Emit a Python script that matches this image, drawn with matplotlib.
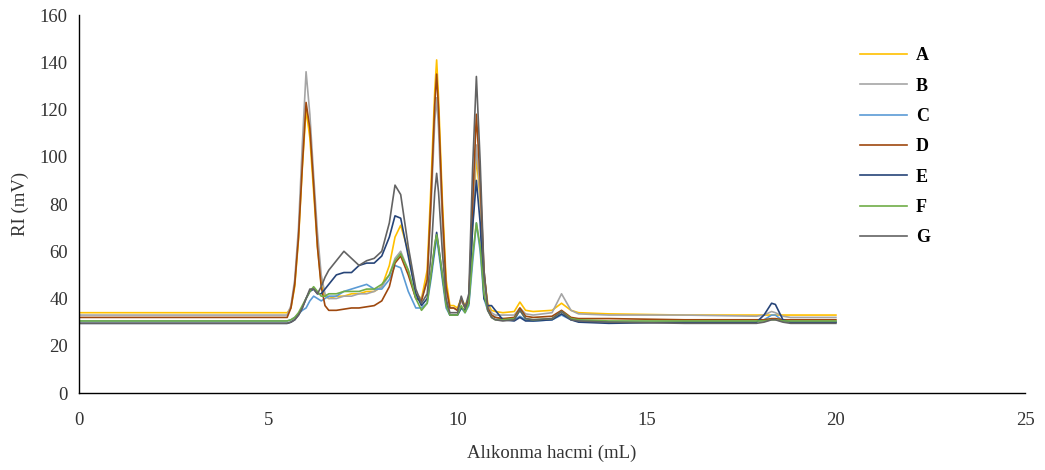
import matplotlib
matplotlib.use("Agg")
import matplotlib.pyplot as plt

# Retention volume (mL) sampling positions
x_ml = [0, 5.0, 5.5,
        5.6, 5.7, 5.8, 5.9, 6.0, 6.1, 6.2, 6.3, 6.4, 6.5, 6.6,
        6.8, 7.0, 7.2, 7.4, 7.6, 7.8, 8.0, 8.2, 8.35, 8.5, 8.7, 8.9,
        9.05, 9.2, 9.3, 9.4, 9.45, 9.5, 9.6, 9.7, 9.8, 9.9,
        10.0, 10.1, 10.2, 10.3, 10.4, 10.5, 10.6, 10.7, 10.8, 10.9, 11.0,
        11.2, 11.5, 11.65, 11.8, 12.0, 12.5, 12.75, 13.0, 13.2, 14.0,
        16.0, 17.9, 18.1, 18.3, 18.4, 18.6, 18.8, 20.0]

ri_A = [34, 34, 34,
        36, 45, 65, 95, 120, 108, 85, 62, 46, 41, 40,
        41, 41, 42, 42, 43, 43, 45, 54, 66, 71, 60, 42,
        40, 52, 88, 128, 141, 125, 82, 48, 37, 37,
        36, 40, 37, 40, 70, 100, 82, 50, 38, 35, 34.5,
        34, 34.5, 38.5, 35, 34.5, 35, 38, 35, 34, 33.5,
        33, 33, 33, 33, 33, 33, 33, 33]
ri_B = [33, 33, 33,
        37, 48, 70, 105, 136, 118, 92, 68, 50, 42, 40,
        40, 41, 41, 42, 42, 43, 45, 50, 57, 60, 52, 40,
        40, 47, 78, 115, 125, 112, 72, 44, 36, 36,
        35, 39, 36, 39, 72, 105, 84, 50, 37, 34, 33,
        33, 33, 36, 33.5, 33, 34, 42, 35, 33.5, 33,
        33, 32.5, 33, 34.5, 34, 32.5, 32, 32]
ri_C = [30.5, 30.5, 30.5,
        31, 32, 33.5, 35, 36, 39, 41, 40, 39, 40, 41,
        41, 43, 44, 45, 46, 44, 44, 48, 54, 53, 43, 36,
        36, 38, 48, 60, 66, 60, 48, 36, 33, 33,
        33, 36, 34, 37, 55, 72, 60, 40, 35, 33, 32,
        31.5, 31, 32.5, 31, 30.5, 31, 33, 31, 30.5, 30,
        30, 30, 31, 33, 33, 30.5, 30, 30]
ri_D = [32, 32, 32,
        36, 46, 66, 96, 123, 112, 88, 62, 45, 37, 35,
        35, 35.5, 36, 36, 36.5, 37, 39, 45, 55, 58, 50, 40,
        39, 48, 82, 122, 135, 120, 78, 45, 36, 36,
        35, 40, 36, 40, 80, 118, 90, 52, 36, 33, 32,
        31.5, 32, 36, 32.5, 32, 32.5, 35, 32, 31.5, 31.5,
        31, 31, 31, 31.5, 31.5, 31, 31, 31]
ri_E = [29.5, 29.5, 29.5,
        30, 31, 33, 36, 40, 43, 44, 42, 42, 44, 46,
        50, 51, 51, 54, 55, 55, 58, 66, 75, 74, 58, 42,
        37, 40, 50, 62, 68, 62, 50, 38, 33, 33,
        33, 36, 35, 38, 70, 90, 72, 40, 37, 37, 35,
        31, 30.5, 32, 30.5, 30.5, 31, 33.5, 31, 30, 29.5,
        30, 30, 33, 38, 37.5, 31, 30, 30]
ri_F = [30.5, 30.5, 30.5,
        31, 32, 34, 37, 40, 43, 45, 43, 41, 41, 42,
        42, 43, 43, 43, 44, 44, 46, 50, 56, 59, 52, 40,
        35, 38, 50, 63, 67, 62, 50, 37, 33, 33,
        33, 37, 34, 38, 58, 72, 62, 42, 35, 32, 31,
        31, 31.5, 35, 31.5, 31, 31.5, 34.5, 31.5, 31, 30.5,
        30.5, 30.5, 30.5, 31, 31, 30.5, 30.5, 30.5]
ri_G = [29.5, 29.5, 29.5,
        30, 31, 33, 36, 40, 44, 44, 42, 45, 49, 52,
        56, 60, 57, 54, 56, 57, 60, 72, 88, 84, 62, 44,
        38, 42, 58, 85, 93, 85, 60, 40, 34, 34,
        34, 41, 36, 42, 95, 134, 98, 52, 35, 32, 31,
        30.5, 31, 35, 31.5, 31, 31.5, 34.5, 31, 30.5, 30,
        29.5, 29.5, 30, 31, 31, 30, 29.5, 29.5]

labels = ["A", "B", "C", "D", "E", "F", "G"]
series = [ri_A, ri_B, ri_C, ri_D, ri_E, ri_F, ri_G]
colors = ["#FFC000", "#A5A5A5", "#5B9BD5", "#9E480E", "#264478", "#70AD47", "#636363"]

x_ticks = [0, 5, 10, 15, 20, 25]
y_ticks = [0, 20, 40, 60, 80, 100, 120, 140, 160]

plt.rcParams['font.family'] = ['Liberation Serif', 'DejaVu Serif']

fig = plt.figure(figsize=(10.45, 4.70), dpi=100)
ax = fig.add_axes([0.0756, 0.1638, 0.9054, 0.8042])

for lab, ys, c in zip(labels, series, colors):
    ax.plot(x_ml, ys, color=c, lw=1.2, label=lab)

ax.set_xlim(0, 25)
ax.set_ylim(0, 160)
ax.set_xticks(x_ticks)
ax.set_yticks(y_ticks)
ax.tick_params(axis='both', length=0, labelsize=13.5, colors='#333333', pad=8)
ax.tick_params(axis='x', pad=14)
for s in ['top', 'right']:
    ax.spines[s].set_visible(False)
for s in ['left', 'bottom']:
    ax.spines[s].set_color('black')
    ax.spines[s].set_linewidth(1.0)

ax.set_xlabel("Alıkonma hacmi (mL)", fontsize=13.5, color='#333333', labelpad=11)
ax.set_ylabel("RI (mV)", fontsize=13.5, color='#333333', labelpad=8)

leg = ax.legend(loc='upper left', bbox_to_anchor=(0.808, 0.958), frameon=False,
                handlelength=2.6, handletextpad=0.5, labelspacing=0.74,
                prop={'family': 'Liberation Serif', 'weight': 'bold', 'size': 13})

fig.savefig("out.png", dpi=100)
